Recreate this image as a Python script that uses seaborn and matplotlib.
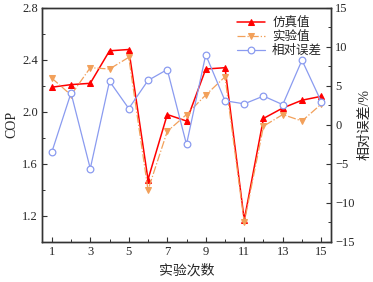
import matplotlib
matplotlib.use("Agg")
import matplotlib.pyplot as plt
import seaborn as sns
import pandas as pd
from matplotlib.ticker import MultipleLocator

runs = list(range(1, 16))
sim_cop = [2.19, 2.21, 2.22, 2.47, 2.48, 1.48, 1.98, 1.93, 2.33, 2.34, 1.17, 1.95, 2.03, 2.09, 2.12]
exp_cop = [2.26, 2.13, 2.34, 2.33, 2.42, 1.40, 1.85, 1.98, 2.13, 2.27, 1.15, 1.89, 1.98, 1.93, 2.06]
rel_err = [-3.5, 4.1, -5.6, 5.6, 2.1, 5.7, 7.1, -2.5, 9.0, 3.1, 2.7, 3.7, 2.6, 8.3, 3.0]
labels = ["仿真值", "实验值", "相对误差"]
xticks = [1, 3, 5, 7, 9, 11, 13, 15]

sns.set_theme(style="ticks")
plt.rcParams['font.family'] = ['Liberation Serif', 'Noto Sans CJK SC']
plt.rcParams['xtick.direction'] = 'in'
plt.rcParams['ytick.direction'] = 'in'

df = pd.DataFrame({"run": runs, "sim": sim_cop, "exp": exp_cop, "err": rel_err})

fig = plt.figure(figsize=(3.73, 2.82), dpi=100)
ax = fig.add_axes([0.113, 0.142, 0.774, 0.830])
ax2 = ax.twinx()

red = '#FF0000'
orange = '#F2A05A'
blue = '#8A9BF0'

sns.lineplot(data=df, x="run", y="sim", ax=ax, color=red, lw=1.1,
             marker='^', markersize=4.6, markeredgecolor=red, markerfacecolor=red,
             label=labels[0], legend=False)
sns.lineplot(data=df, x="run", y="exp", ax=ax, color=orange, lw=0.9,
             linestyle='-.', marker='v', markersize=4.6, markeredgecolor=orange,
             markerfacecolor=orange, label=labels[1], legend=False)
sns.lineplot(data=df, x="run", y="err", ax=ax2, color=blue, lw=0.9,
             marker='o', markersize=4.8, markeredgecolor=blue, markerfacecolor='white',
             markeredgewidth=0.9, label=labels[2], legend=False)

ax.set_xlim(0.5, 15.5)
ax.set_ylim(1.0, 2.8)
ax2.set_ylim(-15, 15)
ax.set_xticks(xticks)
ax.xaxis.set_minor_locator(MultipleLocator(1))
ax.yaxis.set_major_locator(MultipleLocator(0.4))
ax.yaxis.set_minor_locator(MultipleLocator(0.2))
ax2.yaxis.set_major_locator(MultipleLocator(5))
ax2.yaxis.set_minor_locator(MultipleLocator(2.5))

ax.set_yticks([1.2, 1.6, 2.0, 2.4, 2.8])
ax.set_yticklabels(["1.2", "1.6", "2.0", "2.4", "2.8"])

for a in (ax, ax2):
    a.tick_params(which='major', length=3.5, width=0.8, labelsize=9, color='#333333', pad=3)
    a.tick_params(which='minor', length=2, width=0.7, color='#333333')
    for s in a.spines.values():
        s.set_color('#333333')
        s.set_linewidth(1.0)
ax.tick_params(axis='x', which='both', top=False)

ax.set_xlabel("实验次数", fontsize=10, labelpad=4)
ax.set_ylabel("COP", fontsize=10, labelpad=3)
ax2.set_ylabel("相对误差/%", fontsize=10, labelpad=3)

h1, l1 = ax.get_legend_handles_labels()
h2, l2 = ax2.get_legend_handles_labels()
ax.legend(h1 + h2, l1 + l2, loc='upper right', frameon=False, fontsize=9,
          handlelength=2.2, handletextpad=0.6, labelspacing=0.15,
          borderaxespad=0.3, bbox_to_anchor=(1.0, 1.0))

fig.savefig("out.png", dpi=100)
